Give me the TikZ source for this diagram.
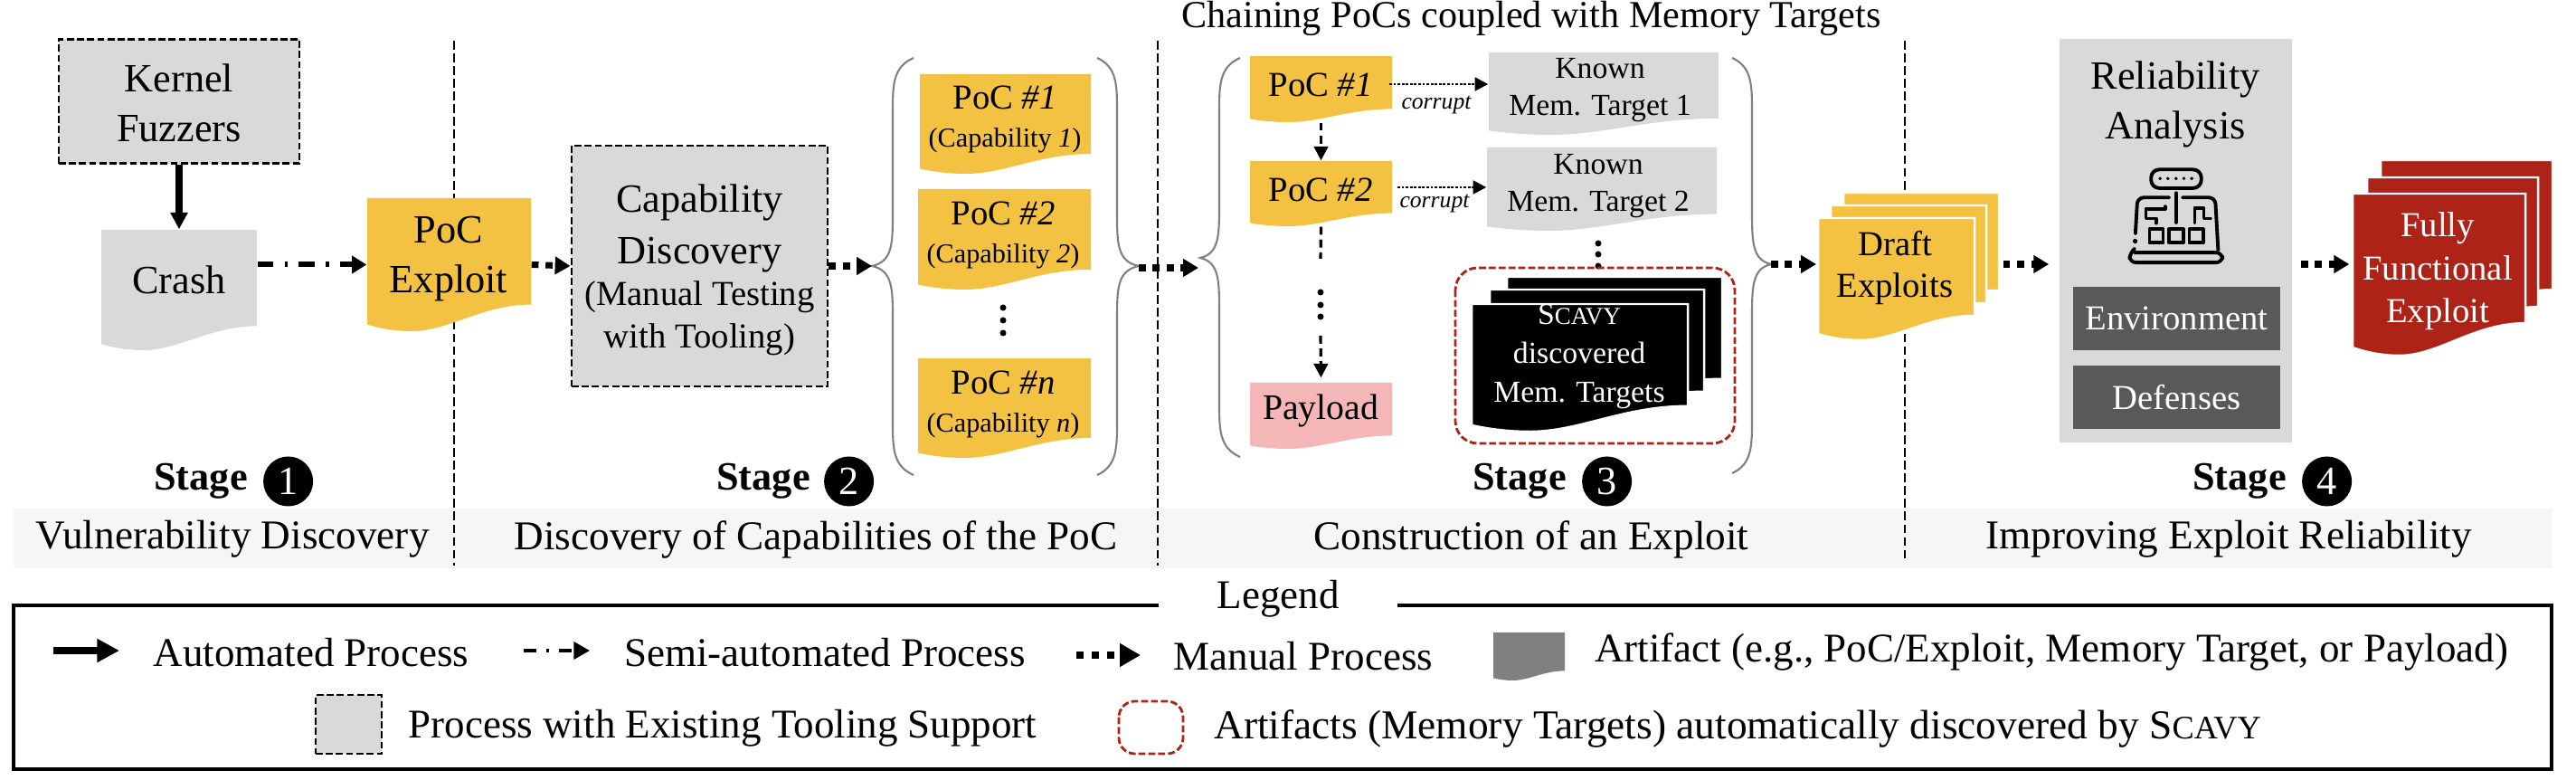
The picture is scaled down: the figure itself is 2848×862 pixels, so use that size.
\documentclass[tikz,border=0pt]{standalone}
\usepackage{fontspec}
\setmainfont{Liberation Serif}
\usepackage{tikz}
\usetikzlibrary{arrows.meta,positioning,fit,calc}

\definecolor{pocgold}{HTML}{F4C242}
\definecolor{toolgray}{HTML}{D9D9D9}
\definecolor{darkgray}{HTML}{595959}
\definecolor{swatchgray}{HTML}{808080}
\definecolor{exploitred}{HTML}{AE2317}
\definecolor{payloadpink}{HTML}{F4B6B6}
\definecolor{stripgray}{HTML}{F6F6F6}

\newcommand{\hugefont}{\fontsize{12.6}{15.6}\selectfont}
\newcommand{\bigfont}{\fontsize{11}{13.5}\selectfont}
\newcommand{\midfont}{\fontsize{9.6}{11.6}\selectfont}
\newcommand{\capfont}{\fontsize{8.6}{10.4}\selectfont}
\newcommand{\scavy}{S\scalebox{.8}{CAVY}}

% wavy sheet: [look]{name}{left}{right}{top}{bottom}
\newcommand{\artifact}[6][]{%
  \pgfmathsetmacro{\docw}{#4-#3}\pgfmathsetmacro{\doch}{#6-#5}
  \pgfmathsetmacro{\rb}{#6-0.2*\doch}\pgfmathsetmacro{\lb}{#6-0.05*\doch}
  \pgfmathsetmacro{\ca}{#4-0.3*\docw}\pgfmathsetmacro{\cb}{#3+0.5*\docw}
  \pgfmathsetmacro{\low}{#3+0.27*\docw}\pgfmathsetmacro{\cc}{#3+0.17*\docw}
  \pgfmathsetmacro{\cd}{#3+0.08*\docw}\pgfmathsetmacro{\ce}{#6-0.02*\doch}
  \path[#1] (#3,#5) -- (#4,#5) -- (#4,\rb) .. controls (\ca,\rb) and (\cb,#6) .. (\low,#6)
    .. controls (\cc,#6) and (\cd,\ce) .. (#3,\lb) -- cycle;
  \node[fit={(#3,#5)(#4,#6)}, inner sep=0pt] (#2) {};
}
% grey curly bracket: {tip x}{spine x}{end x}{top}{mid}{bottom}
\newcommand{\groupbrace}[6]{%
  \draw[groupline] (#3,#4) .. controls ($(#2,#4)+(0,10)$) and ($(#2,#4)+(0,30)$) .. ($(#2,#4)+(0,60)$)
    -- ($(#2,#5)+(0,-60)$) .. controls ($(#2,#5)+(0,-25)$) and ($(#2,#5)+(0,-5)$) .. (#1,#5)
    .. controls ($(#2,#5)+(0,5)$) and ($(#2,#5)+(0,25)$) .. ($(#2,#5)+(0,60)$)
    -- ($(#2,#6)+(0,-60)$) .. controls ($(#2,#6)+(0,-30)$) and ($(#2,#6)+(0,-10)$) .. (#3,#6);
}

\begin{document}
\begin{tikzpicture}[x=0.01cm, y=-0.01cm,
  toolbox/.style={rectangle, draw=black, fill=toolgray, line width=0.8pt, dash pattern=on 2.2pt off 1pt, inner sep=0pt, align=center, font=\hugefont},
  sheet/.style={inner sep=0pt, align=center, font=\bigfont},
  whitesheet/.style={sheet, text=white},
  gold/.style={fill=pocgold}, grey/.style={fill=toolgray},
  redsheet/.style={fill=exploitred, draw=white, line width=0.7pt},
  goldstack/.style={fill=pocgold, draw=white, line width=0.7pt},
  blackstack/.style={fill=black, draw=white, line width=0.7pt},
  groupline/.style={draw=gray, line width=0.6pt},
  stage/.style={inner sep=0pt, font=\hugefont\bfseries},
  stagenum/.style={circle, fill=black, text=white, minimum size=0.55cm, inner sep=0pt, font=\hugefont},
  stagename/.style={inner sep=0pt, font=\fontsize{12.85}{15}\selectfont},
  factorbox/.style={rectangle, fill=darkgray, text=white, minimum width=2.29cm, minimum height=0.7cm, inner sep=0pt, font=\bigfont},
  divider/.style={line width=0.8pt, dash pattern=on 2.8pt off 1.2pt},
  autoarrow/.style={-{Triangle[length=5.2pt,width=5.2pt]}, line width=2pt},
  semiarrow/.style={-{Triangle[length=4.6pt,width=5.4pt]}, line width=1.7pt, dash pattern=on 5pt off 3.5pt on 1pt off 3.5pt},
  manualarrow/.style={-{Triangle[length=4.8pt,width=5.4pt]}, line width=2pt, dash pattern=on 2.2pt off 2.2pt},
  chainarrow/.style={-{Triangle[length=4.4pt,width=4.4pt]}, line width=0.9pt, dash pattern=on 2.5pt off 1.5pt},
  corruptarrow/.style={-{Triangle[length=4.2pt,width=4.2pt]}, line width=0.8pt, dash pattern=on 0.8pt off 0.5pt},
  dots/.style={circle, fill=black, minimum size=0.07cm, inner sep=0pt},
  legendtext/.style={inner sep=0pt, font=\fontsize{12.8}{15}\selectfont}]
\useasboundingbox (0,0) rectangle (2848,862);

% stage strip and dividers
\fill[stripgray] (15,562) rectangle (2822,628);
\coordinate (divtop1) at (502,45); \coordinate (divbot1) at (502,625);
\coordinate (divtop2) at (1280,45); \coordinate (divbot2) at (1280,625);
\coordinate (divtop3) at (2106,45); \coordinate (divbot3) at (2106,620);
\draw[divider] (divtop1) -- (divbot1);
\draw[divider] (divtop2) -- (divbot2);
\draw[divider] (divtop3) -- (divbot3);

% stage 1
\node[toolbox, minimum width=2.66cm, minimum height=1.37cm] (fuzzers) at (198,112) {};
\node[sheet, font=\hugefont] (fuzzerstext) at (198,114) {Kernel\\Fuzzers};
\artifact[grey]{crash}{112}{284}{254}{387}
\node[sheet, font=\hugefont] (crashtext) at (198,309) {Crash};
\artifact[gold]{poc}{406}{587}{219}{366}
\node[sheet, font=\hugefont] (poctext) at (496,286) {PoC\\Exploit};
\draw[autoarrow] (fuzzers) -- (crash.north);
\draw[semiarrow] (crash.east |- poc.west) -- (poc.west);

% stage 2
\node[toolbox, minimum width=2.83cm, minimum height=2.66cm] (capdisc) at (773.5,294) {};
\node[sheet] (capdisctext) at (773.5,298.5) {\hugefont Capability\\[2.6pt]\hugefont Discovery\\[-0.3pt]\bigfont (Manual Testing\\[-0.2pt]with Tooling)};
\draw[manualarrow] (poc.east) -- (capdisc.west);
\coordinate (capin) at (964,294); \coordinate (capout) at (1259,294);
\groupbrace{964}{987}{1010}{64}{294}{525}
\groupbrace{1259}{1235}{1213}{64}{294}{525}
\draw[manualarrow] (capdisc.east) -- (capin);
\artifact[gold]{capa}{1017}{1206}{82}{192}
\node[sheet] (capatext) at (1111,132) {PoC \textit{\#1}\\[-1.5pt]\capfont (Capability \textit{1})};
\artifact[gold]{capb}{1015}{1206}{209}{320}
\node[sheet] (capbtext) at (1109,260) {PoC \textit{\#2}\\[-1.5pt]\capfont (Capability \textit{2})};
\node[dots] (capdota) at (1109,340) {}; \node[dots] (capdotb) at (1109,354) {}; \node[dots] (capdotc) at (1109,368) {};
\artifact[gold]{capn}{1015}{1206}{396}{506}
\node[sheet] (capntext) at (1109,447) {PoC \textit{\#n}\\[-1.5pt]\capfont (Capability \textit{n})};

% stage 3
\node[inner sep=0pt, font=\fontsize{12}{14}\selectfont] (chaintitle) at (1693,20) {Chaining PoCs coupled with Memory Targets};
\coordinate (chainin) at (1325,296); \coordinate (chainout) at (1958,292);
\groupbrace{1327}{1348}{1371}{64}{285}{505}
\groupbrace{1958}{1937}{1915}{64}{292}{523}
\draw[manualarrow] (capout |- chainin) -- (chainin);
\artifact[gold]{chaina}{1382}{1539}{62}{135}
\node[sheet] (chainatext) at (1460,94) {PoC \textit{\#1}};
\artifact[gold]{chainb}{1382}{1539}{178}{250}
\node[sheet] (chainbtext) at (1460,210) {PoC \textit{\#2}};
\artifact[fill=payloadpink]{payload}{1382}{1539}{423}{496}
\node[sheet, font=\fontsize{11.3}{13.5}\selectfont] (payloadtext) at (1460,454) {Payload};
\draw[chainarrow] (chaina.south) -- (chainb.north);
\coordinate (chainmid) at (1460,286); \coordinate (chainlow) at (1460,371);
\draw[line width=0.9pt, dash pattern=on 2.5pt off 1.5pt] (chainb.south) -- (chainmid);
\node[dots] (chaindota) at (1460,323) {}; \node[dots] (chaindotb) at (1460,337) {}; \node[dots] (chaindotc) at (1460,350) {};
\draw[chainarrow] (chainlow) -- ([yshift=1.4pt]payload.north);
\artifact[grey]{knowna}{1646}{1900}{58}{149}
\node[sheet, font=\midfont] (knownatext) at (1769,100) {Known\\Mem. Target 1};
\artifact[grey]{knownb}{1644}{1898}{163}{255}
\node[sheet, font=\midfont] (knownbtext) at (1767,206) {Known\\Mem. Target 2};
\coordinate (corruptae) at (1536,93); \coordinate (corruptbe) at (1545,207);
\draw[corruptarrow] (corruptae) -- (knowna.west |- corruptae);
\draw[corruptarrow] (corruptbe) -- (knownb.west |- corruptbe);
\node[inner sep=0pt, font=\fontsize{7.3}{9}\selectfont\itshape] (corrupta) at (1588,116) {corrupt};
\node[inner sep=0pt, font=\fontsize{7.3}{9}\selectfont\itshape] (corruptb) at (1586,225) {corrupt};
\node[dots] (tgtdota) at (1767,269) {}; \node[dots] (tgtdotb) at (1767,281) {}; \node[dots] (tgtdotc) at (1767,294) {};
\draw[exploitred, line width=0.8pt, dash pattern=on 2.2pt off 0.9pt, rounded corners=7pt] (1609,296) rectangle (1918,490);
\artifact[blackstack]{scavyc}{1666}{1904}{306}{447}
\artifact[blackstack]{scavyb}{1647}{1884}{320}{461}
\artifact[blackstack]{scavya}{1627}{1866}{336}{477}
\node[whitesheet, font=\midfont] (scavytext) at (1746,394) {\scavy\\[0.5pt]discovered\\[0.5pt]Mem. Targets};
\draw[manualarrow] (chainout) -- ++(50,0) coordinate (draftin);
\artifact[goldstack]{draftc}{2038}{2210}{213}{348}
\artifact[goldstack]{draftb}{2024}{2196}{227}{362}
\artifact[goldstack]{drafta}{2010}{2183}{241}{376}
\node[sheet] (drafttext) at (2095,296) {Draft\\[-0.5pt]Exploits};

% stage 4
\node[rectangle, fill=toolgray, minimum width=2.57cm, minimum height=4.46cm, inner sep=0pt] (reliab) at (2405.5,266) {};
\node[sheet, font=\hugefont] (reliabtext) at (2405,115) {Reliability\\Analysis};
\node[factorbox] (envbox) at (2406.5,352) {Environment};
\node[factorbox, below=0.16cm of envbox] (defbox) {Defenses};
\begin{scope}[shift={(2280,180)}, x=0.00333cm, y=-0.00333cm, line width=1.1pt, line cap=round, line join=round]
  \draw[rounded corners=2.6pt] (295,22) rectangle (462,84);
  \foreach \dotx in {325,351,378,404,430} \fill (\dotx,52) circle (0.55pt);
  \draw[rounded corners=2pt] (243,235) -- (250,115) -- (355,115);
  \draw[rounded corners=2pt] (400,115) -- (508,115) -- (518,290);
  \draw (378,100) -- (378,198);
  \draw (342,145) -- (342,152) -- (278,152) -- (278,185) -- (312,185) -- (312,200);
  \draw (440,198) -- (440,150) -- (470,150) -- (470,185) -- (492,185);
  \draw (290,220) rectangle (335,265);
  \draw (355,220) rectangle (402,265);
  \draw (422,220) rectangle (468,265);
  \fill (242,260) circle (0.75pt);
  \draw[rounded corners=2pt] (240,285) -- (224,298) -- (224,331) -- (532,331) -- (532,298) -- (240,298);
\end{scope}
\draw[manualarrow, shorten <=0.04cm, shorten >=0.11cm] (draftc.east |- chainout) -- (reliab.west |- chainout);
\artifact[redsheet]{fullc}{2632}{2822}{177}{356}
\artifact[redsheet]{fullb}{2617}{2806}{196}{375}
\artifact[redsheet]{fulla}{2601}{2792}{214}{393}
\node[whitesheet] (fulltext) at (2695,300) {Fully\\Functional\\Exploit};
\draw[manualarrow, shorten <=0.09cm, shorten >=0.03cm] (reliab.east |- chainout) -- (fulla.west |- chainout);

% stage labels
\node[stage] (stagea) at (222,532) {Stage};
\node[stagenum, right=0.16cm of stagea] (numa) {1};
\node[stage] (stageb) at (844,532) {Stage};
\node[stagenum, right=0.14cm of stageb] (numb) {2};
\node[stage] (stagec) at (1680,532) {Stage};
\node[stagenum, right=0.16cm of stagec] (numc) {3};
\node[stage] (staged) at (2476,532) {Stage};
\node[stagenum, right=0.16cm of staged] (numd) {4};
\node[stagename] (namea) at (257,596) {Vulnerability Discovery};
\node[stagename] (nameb) at (902,596) {Discovery of Capabilities of the PoC};
\node[stagename] (namec) at (1693,596) {Construction of an Exploit};
\node[stagename] (named) at (2464,596) {Improving Exploit Reliability};

% legend
\node[draw=black, line width=1.1pt, fit={(15,669)(2821,850)}, inner sep=0pt] (legendframe) {};
\node[fill=white, minimum width=2.64cm, inner sep=0pt, font=\fontsize{12.8}{15}\selectfont] (legendtitle) at (1413,662) {Legend};
\coordinate (autoa) at (59,719); \coordinate (autob) at (132,719);
\coordinate (semia) at (579,719); \coordinate (semib) at (652,719);
\coordinate (mana) at (1190,724); \coordinate (manb) at (1261,724);
\draw[-{Triangle[length=7pt,width=7pt]}, line width=2.5pt] (autoa) -- (autob);
\draw[-{Triangle[length=5pt,width=5.4pt]}, line width=1pt, dash pattern=on 4pt off 3pt on 1pt off 3pt] (semia) -- (semib);
\draw[-{Triangle[length=6.5pt,width=7pt]}, line width=2pt, dash pattern=on 2.4pt off 2.4pt] (mana) -- (manb);
\node[legendtext] (autotext) at (344,721) {Automated Process};
\node[legendtext] (semitext) at (912,721) {Semi-automated Process};
\node[legendtext] (mantext) at (1441,725) {Manual Process};
\artifact[fill=swatchgray]{swatchart}{1651}{1730}{699}{752}
\node[legendtext] (arttext) at (2268,721) {Artifact (e.g., PoC/Exploit, Memory Target, or Payload)};
\node[toolbox, minimum width=0.73cm, minimum height=0.65cm] (swatchtool) at (385.5,800.5) {};
\node[legendtext] (tooltext) at (799,805) {Process with Existing Tooling Support};
\draw[exploitred, line width=0.8pt, dash pattern=on 2.2pt off 0.9pt, rounded corners=5pt] (1237,775) rectangle (1308,833);
\node[legendtext, font=\fontsize{12.9}{15}\selectfont] (autofound) at (1921,805) {Artifacts (Memory Targets) automatically discovered by \scavy};
\end{tikzpicture}
\end{document}
